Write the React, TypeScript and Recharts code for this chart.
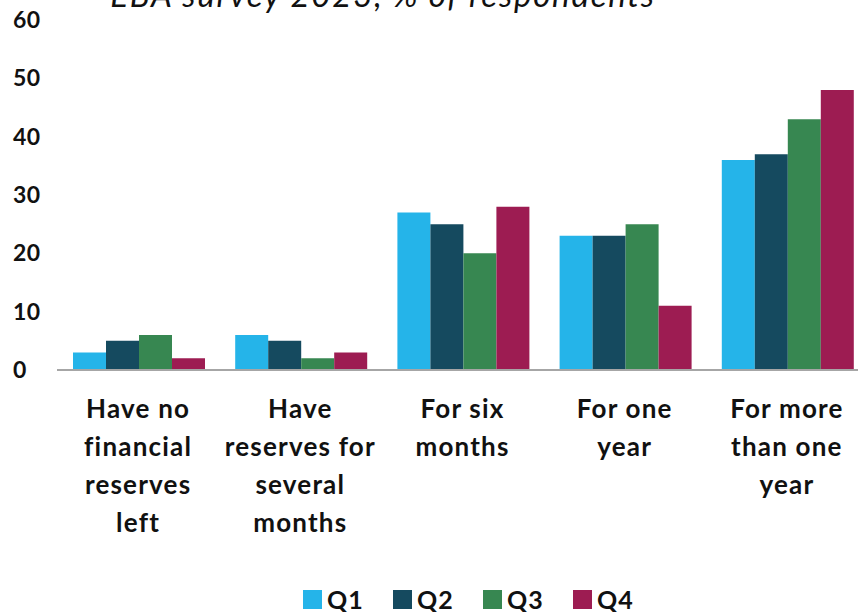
import React from "react";
import { BarChart, Bar, XAxis, YAxis, Legend } from "recharts";

const categories = [
  "Have no financial reserves left",
  "Have reserves for several months",
  "For six months",
  "For one year",
  "For more than one year",
];
const categoryLines = [
  ["Have no", "financial", "reserves", "left"],
  ["Have", "reserves for", "several", "months"],
  ["For six", "months"],
  ["For one", "year"],
  ["For more", "than one", "year"],
];
const q1 = [3, 6, 27, 23, 36];
const q2 = [5, 5, 25, 23, 37];
const q3 = [6, 2, 20, 25, 43];
const q4 = [2, 3, 28, 11, 48];
const yTicks = [0, 10, 20, 30, 40, 50, 60];

const series = [
  { key: "Q1", color: "#25b4e9" },
  { key: "Q2", color: "#154a5f" },
  { key: "Q3", color: "#378751" },
  { key: "Q4", color: "#9d1c52" },
];

const data = categories.map((c, i) => ({
  name: c,
  Q1: q1[i],
  Q2: q2[i],
  Q3: q3[i],
  Q4: q4[i],
}));

const FONT = "Lato, 'Open Sans', sans-serif";

const YTick = (props: any) => {
  const { y, payload } = props;
  return (
    <text x={13} y={y} dy={8} textAnchor="start" fontFamily={FONT} fontWeight={700} fontSize={23} letterSpacing={0.5} fill="#111">
      {payload.value}
    </text>
  );
};

const XTick = (props: any) => {
  const { x, y, payload } = props;
  const idx = categories.indexOf(payload.value);
  const lines = categoryLines[idx] || [payload.value];
  return (
    <text x={x} y={y} textAnchor="middle" fontFamily={FONT} fontWeight={700} fontSize={26} letterSpacing={1.2} fill="#111">
      {lines.map((l, i) => (
        <tspan key={i} x={x} y={y + 40 + i * 38}>
          {l}
        </tspan>
      ))}
    </text>
  );
};

const LegendContent = () => (
  <div style={{ display: "flex", justifyContent: "flex-start", height: 40, paddingTop: 14, paddingLeft: 303, boxSizing: "border-box" }}>
    {series.map((s) => (
      <div key={s.key} style={{ display: "flex", alignItems: "center", width: 90 }}>
        <span style={{ width: 19, height: 19, background: s.color, display: "inline-block", marginRight: 5 }} />
        <span style={{ fontFamily: FONT, fontWeight: 700, fontSize: 25, letterSpacing: 1, color: "#111" }}>{s.key}</span>
      </div>
    ))}
  </div>
);

export default function App() {
  return (
    <div style={{ position: "absolute", left: 0, top: 0, width: 858, height: 612, overflow: "hidden", background: "#fff" }}>
      <div
        style={{
          position: "absolute",
          top: -26,
          left: 0,
          width: 766,
          textAlign: "center",
          fontFamily: FONT,
          fontStyle: "italic",
          fontSize: 33,
          letterSpacing: 1.8,
          color: "#111",
          whiteSpace: "nowrap",
        }}
      >
        EBA survey 2023, % of respondents
      </div>
      <BarChart
        width={870}
        height={612}
        data={data}
        margin={{ top: 20, right: 2, left: 0, bottom: 0 }}
        barCategoryGap={16}
        barGap={0}
      >
        <XAxis
          dataKey="name"
          tick={<XTick />}
          tickLine={false}
          axisLine={{ stroke: "#a6a6a6", strokeWidth: 2 }}
          height={202}
          interval={0}
        />
        <YAxis
          domain={[0, 60]}
          ticks={yTicks}
          width={57}
          tick={<YTick />}
          tickLine={false}
          axisLine={false}
          interval={0}
        />
        <Legend verticalAlign="bottom" height={40} content={<LegendContent />} />
        {series.map((s) => (
          <Bar key={s.key} dataKey={s.key} fill={s.color} isAnimationActive={false} />
        ))}
      </BarChart>
    </div>
  );
}
